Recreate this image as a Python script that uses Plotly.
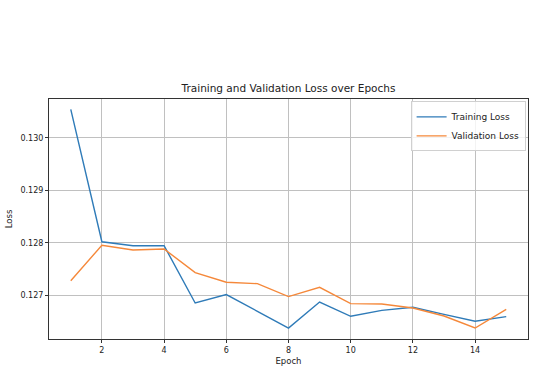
import plotly.graph_objects as go

epochs = list(range(1, 16))
train_loss = [0.130541, 0.128019, 0.127943, 0.127945, 0.126854, 0.127013, 0.126695,
              0.126375, 0.126872, 0.126600, 0.126714, 0.126771, 0.126638, 0.126505, 0.126594]
val_loss = [0.127278, 0.127952, 0.127863, 0.127882, 0.127432, 0.127248, 0.127222,
            0.126975, 0.127152, 0.126842, 0.126835, 0.126759, 0.126606, 0.126377, 0.126733]
x_ticks = [2, 4, 6, 8, 10, 12, 14]
y_ticks = [0.127, 0.128, 0.129, 0.130]

fig = go.Figure()
fig.add_trace(go.Scatter(x=epochs, y=train_loss, mode="lines", name="Training Loss",
                         line=dict(color="#2f7bb8", width=1.4)))
fig.add_trace(go.Scatter(x=epochs, y=val_loss, mode="lines", name="Validation Loss",
                         line=dict(color="#f5883a", width=1.4)))

font = "DejaVu Sans, sans-serif"
fig.update_layout(
    width=536, height=373,
    margin=dict(l=49, r=8, t=99, b=34),
    paper_bgcolor="white", plot_bgcolor="white",
    font=dict(family=font, size=8, color="#222"),
    title=dict(text="Training and Validation Loss over Epochs", x=0.5, xanchor="center",
               xref="paper", y=0.762, yanchor="middle", font=dict(size=10.5, color="#222")),
    legend=dict(x=0.995, y=0.99, xanchor="right", yanchor="top",
                bgcolor="rgba(255,255,255,0.8)", bordercolor="#d0d0d0", borderwidth=1,
                font=dict(size=9), tracegroupgap=0, itemwidth=30),
    showlegend=True,
)
fig.update_xaxes(range=[0.3, 15.7], tickvals=x_ticks, ticktext=[str(v) for v in x_ticks],
                 showgrid=True, gridcolor="#c0c0c0", gridwidth=0.8,
                 showline=True, linecolor="#333", linewidth=1, mirror=True,
                 ticks="outside", ticklen=3, tickcolor="#333", zeroline=False,
                 title=dict(text="Epoch", font=dict(size=8.5), standoff=4))
fig.update_yaxes(range=[0.126168, 0.130737], tickvals=y_ticks,
                 ticktext=["%.3f" % v for v in y_ticks],
                 showgrid=True, gridcolor="#c0c0c0", gridwidth=0.8,
                 showline=True, linecolor="#333", linewidth=1, mirror=True,
                 ticks="outside", ticklen=3, tickcolor="#333", zeroline=False,
                 title=dict(text="Loss", font=dict(size=8.5), standoff=6))

fig.write_html("out.html")
